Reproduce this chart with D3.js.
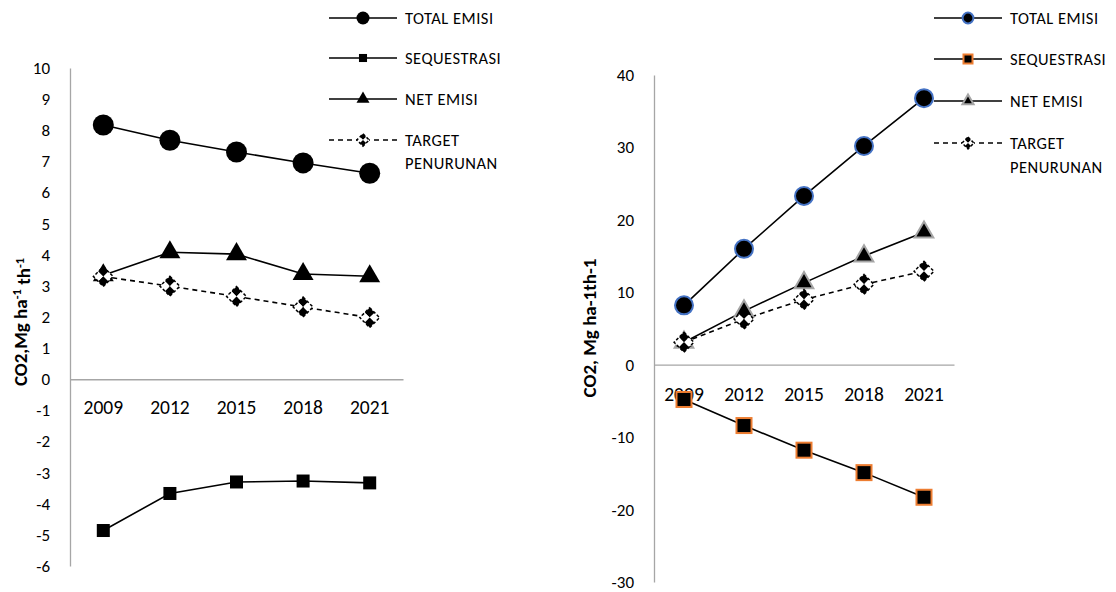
<!DOCTYPE html>
<html lang="en">
<head>
<meta charset="UTF-8" />
<title>Emisi CO2</title>
<script src="https://d3js.org/d3.v7.min.js"></script>
<style>
  body { margin: 0; background: #fff; font-family: Carlito, "Open Sans", "Liberation Sans", sans-serif; }
  svg { display: block; }
  .yaxis .tick text { font-size: 17px; fill: #000; }
  .xaxis .tick text { font-size: 19.5px; fill: #000; }
  .legend text { font-size: 16.5px; fill: #000; letter-spacing: 0.5px; }
  .ytitle { font-size: 19px; font-weight: bold; fill: #000; }
</style>
</head>
<body>
<svg id="chart" width="1116" height="592"></svg>
<script>
const years = ["2009", "2012", "2015", "2018", "2021"];
const seriesNames = ["TOTAL EMISI", "SEQUESTRASI", "NET EMISI", "TARGET PENURUNAN"];

// left panel
const leftTotal = [8.17, 7.68, 7.3, 6.95, 6.62];
const leftSeq = [-4.86, -3.67, -3.3, -3.27, -3.33];
const leftNet = [3.34, 4.08, 4.02, 3.38, 3.31];
const leftTarget = [3.3, 2.99, 2.66, 2.32, 1.98];
const leftTicks = d3.range(-6, 11, 1);

// right panel
const rightTotal = [8.2, 16.0, 23.3, 30.2, 36.8];
const rightSeq = [-4.8, -8.4, -11.8, -14.9, -18.3];
const rightNet = [3.1, 7.4, 11.3, 15.0, 18.3];
const rightTarget = [3.1, 6.3, 9.0, 11.1, 12.9];
const rightTicks = d3.range(-30, 41, 10);

const svg = d3.select("#chart");

function checker(g, s) {
  // small rotated 2x2 checker diamond with dashed edge
  const m = g.append("g").attr("transform", "rotate(45)");
  const h = s / 2;
  [[-h, -h, "#000"], [0, -h, "#fff"], [-h, 0, "#fff"], [0, 0, "#000"]].forEach(([x, y, c]) => {
    m.append("rect").attr("x", x).attr("y", y).attr("width", h).attr("height", h).attr("fill", c);
  });
  m.append("rect").attr("x", -h).attr("y", -h).attr("width", s).attr("height", s)
    .attr("fill", "none").attr("stroke", "#000").attr("stroke-width", 1.5).attr("stroke-dasharray", "3,2");
}

function marker(g, type, st, small) {
  const k = small ? st.legendScale : 1;
  if (type === "circle") {
    g.append("circle").attr("r", st.circleR * k).attr("fill", "#000")
      .attr("stroke", st.circleStroke).attr("stroke-width", st.circleStroke === "none" ? 0 : 2);
  } else if (type === "square") {
    const s = st.squareS * k;
    g.append("rect").attr("x", -s / 2).attr("y", -s / 2).attr("width", s).attr("height", s)
      .attr("fill", "#000").attr("stroke", st.squareStroke).attr("stroke-width", st.squareStroke === "none" ? 0 : 2);
  } else if (type === "triangle") {
    const sz = st.triSize * k * k;
    g.append("path").attr("d", d3.symbol(d3.symbolTriangle, sz)())
      .attr("fill", "#000").attr("stroke", st.triStroke).attr("stroke-width", st.triStroke === "none" ? 0 : 2);
  } else {
    checker(g, st.checkS * k);
  }
}

function panel(cfg) {
  const x = d3.scaleBand().domain(years).range([cfg.x0, cfg.x1]);
  const y = d3.scaleLinear().domain(cfg.domain).range([cfg.yBottom, cfg.yTop]);

  // y axis
  const ya = svg.append("g").attr("class", "yaxis").attr("transform", `translate(${cfg.x0},0)`)
    .call(d3.axisLeft(y).tickValues(cfg.ticks).tickFormat(d => String(d)).tickSize(0).tickPadding(cfg.tickPad));
  ya.select(".domain").attr("stroke", "#a6a6a6").attr("stroke-width", 1.3);
  ya.attr("font-family", null);

  // x axis at zero
  const xa = svg.append("g").attr("class", "xaxis").attr("transform", `translate(0,${y(0)})`)
    .call(d3.axisBottom(x).tickSize(0).tickPadding(cfg.xPad));
  xa.select(".domain").attr("stroke", "#a6a6a6").attr("stroke-width", 1.3);
  xa.attr("font-family", null);

  // y title
  svg.append("text").attr("class", "ytitle")
    .attr("transform", `translate(${cfg.titleX},${cfg.titleY}) rotate(-90)`)
    .attr("text-anchor", "middle")
    .call(cfg.title);

  const series = [
    { vals: cfg.total, type: "circle", dash: null },
    { vals: cfg.seq, type: "square", dash: null },
    { vals: cfg.net, type: "triangle", dash: null },
    { vals: cfg.target, type: "target", dash: "5,4" }
  ];

  const line = d3.line().x((d, i) => x(years[i]) + x.bandwidth() / 2).y(d => y(d));
  series.forEach(s => {
    svg.append("path").attr("d", line(s.vals)).attr("fill", "none")
      .attr("stroke", "#000").attr("stroke-width", 1.6)
      .attr("stroke-dasharray", s.dash);
  });
  // markers drawn after lines, target last
  [series[1], series[0], series[2], series[3]].forEach(s => {
    s.vals.forEach((v, i) => {
      const g = svg.append("g").attr("transform", `translate(${x(years[i]) + x.bandwidth() / 2},${y(v)})`);
      marker(g, s.type, cfg.style, false);
    });
  });

  // legend
  const lg = svg.append("g").attr("class", "legend");
  series.forEach((s, i) => {
    const ly = cfg.legendY[i];
    lg.append("line").attr("x1", cfg.legX).attr("x2", cfg.legX + 68).attr("y1", ly).attr("y2", ly)
      .attr("stroke", "#000").attr("stroke-width", 1.6).attr("stroke-dasharray", s.dash);
    const g = lg.append("g").attr("transform", `translate(${cfg.legX + 34},${ly})`);
    if (s.type === "target") {
      g.append("rect").attr("x", -6).attr("y", -6).attr("width", 12).attr("height", 12).attr("fill", "#fff");
    }
    marker(g, s.type, cfg.style, true);
    const t = lg.append("text").attr("x", cfg.legX + 76).attr("y", ly).attr("dy", "0.35em");
    if (s.type === "target") {
      t.append("tspan").text("TARGET");
      t.append("tspan").attr("x", cfg.legX + 76).attr("dy", cfg.wrapDy).text("PENURUNAN");
    } else {
      t.text(seriesNames[i]);
    }
  });
}

panel({
  x0: 70, x1: 403, yTop: 68, yBottom: 566, domain: [-6, 10], ticks: leftTicks,
  tickPad: 20, xPad: 21,
  total: leftTotal, seq: leftSeq, net: leftNet, target: leftTarget,
  titleX: 27, titleY: 322,
  title: t => {
    t.append("tspan").text("CO2,Mg ha");
    t.append("tspan").attr("dy", "-0.45em").attr("font-size", "12.5px").text("-1");
    t.append("tspan").attr("dy", "0.45em").text(" th");
    t.append("tspan").attr("dy", "-0.45em").attr("font-size", "12.5px").text("-1");
  },
  legX: 329, legendY: [18, 58, 99, 140], wrapDy: 23,
  style: { circleR: 10.5, circleStroke: "none", squareS: 13, squareStroke: "none", triSize: 190, triStroke: "none", checkS: 14, legendScale: 0.62 }
});

panel({
  x0: 654, x1: 954, yTop: 75, yBottom: 582, domain: [-30, 40], ticks: rightTicks,
  tickPad: 20, xPad: 22,
  total: rightTotal, seq: rightSeq, net: rightNet, target: rightTarget,
  titleX: 596, titleY: 328,
  title: t => t.text("CO2, Mg ha-1th-1"),
  legX: 934, legendY: [18, 59, 101, 143], wrapDy: 24,
  style: { circleR: 9, circleStroke: "#4472c4", squareS: 15, squareStroke: "#ed7d31", triSize: 150, triStroke: "#a5a5a5", checkS: 14, legendScale: 0.6 }
});
</script>
</body>
</html>
